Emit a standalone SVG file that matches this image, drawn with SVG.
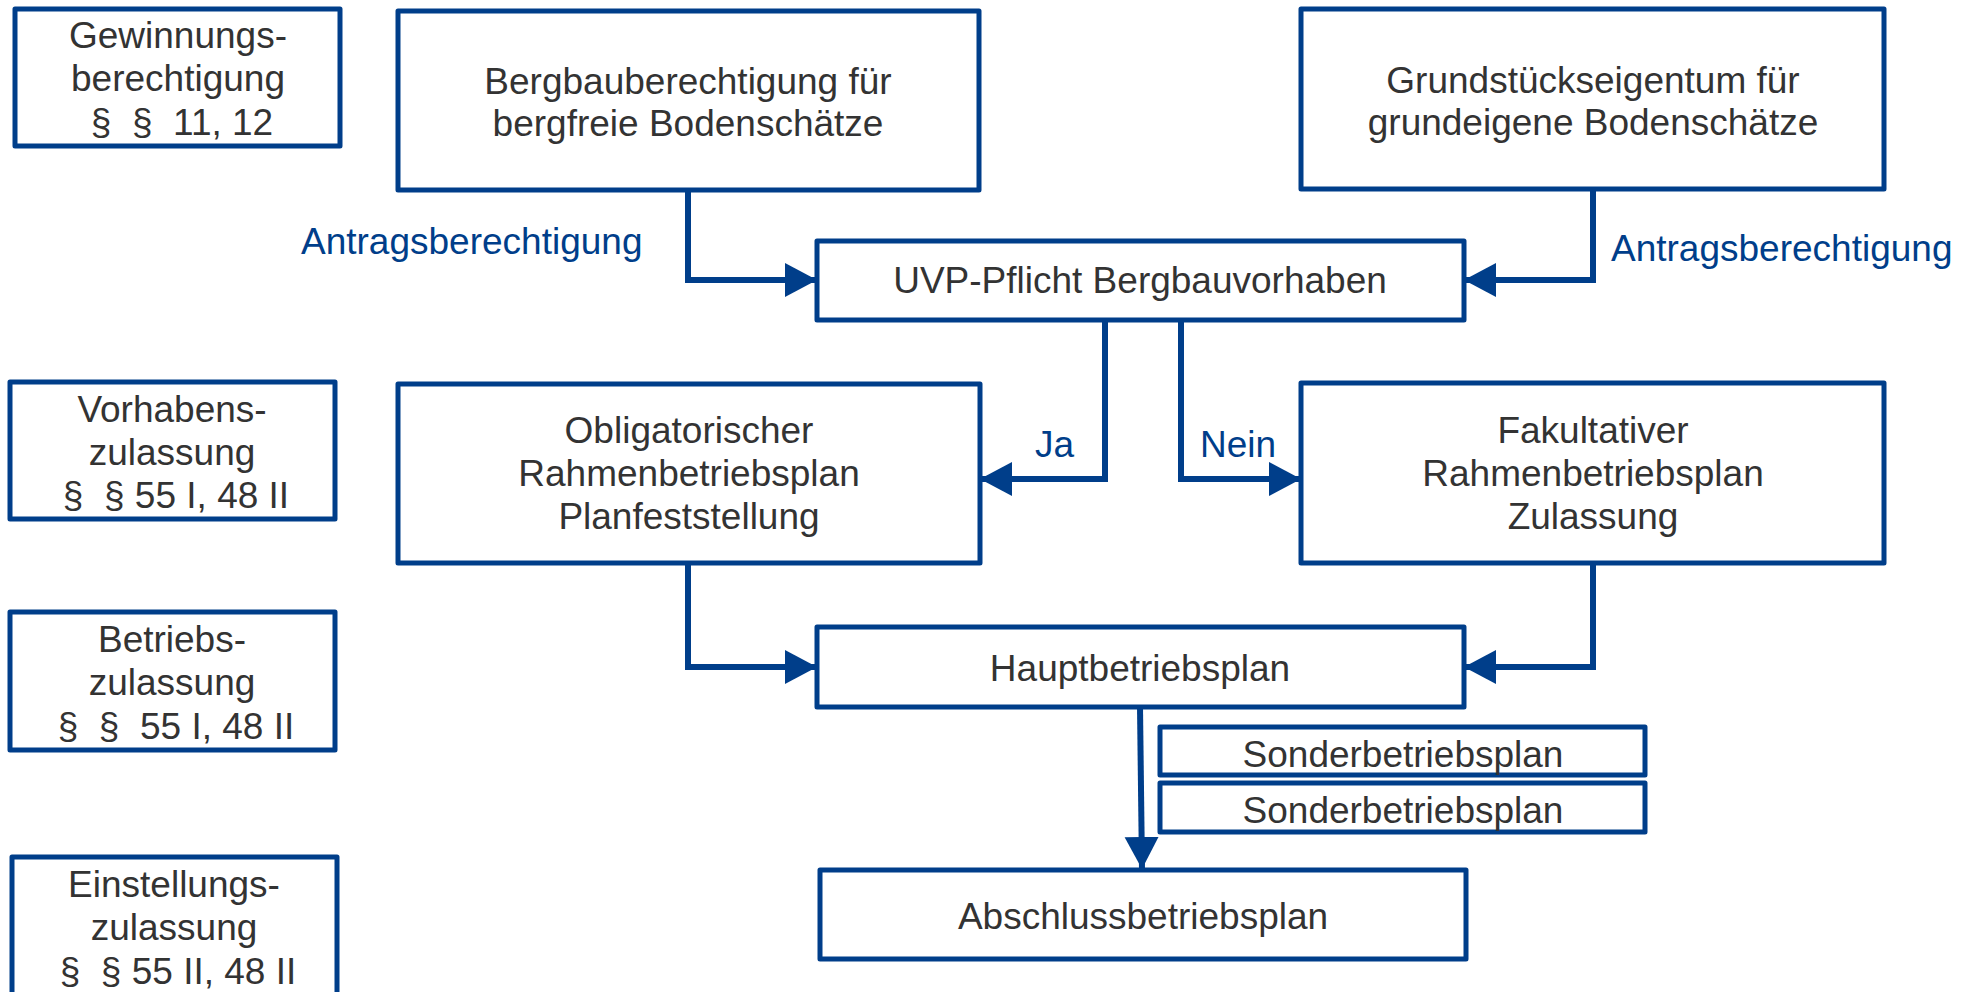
<svg xmlns="http://www.w3.org/2000/svg" width="1975" height="992" viewBox="0 0 1975 992">
<style>
.box{fill:#fff;stroke:#003E8A;stroke-width:5;stroke-linejoin:round}
.t{font-family:"Liberation Sans",Arial,sans-serif;font-size:37px;fill:#333;text-anchor:middle;white-space:pre}
.lbl{font-family:"Liberation Sans",Arial,sans-serif;font-size:37px;fill:#003E8A}
.c{fill:none;stroke:#003E8A;stroke-width:6;stroke-linejoin:miter;marker-end:url(#ah)}
</style>
<defs>
<marker id="ah" markerUnits="userSpaceOnUse" markerWidth="34" markerHeight="36" refX="32" refY="18" orient="auto">
<path d="M0,1 L32,18 L0,35 z" fill="#003E8A"/>
</marker>
</defs>
<rect width="1975" height="992" fill="#fff"/>
<g id="connectors">
<path class="c" d="M688,190 V280 H817"/>
<path class="c" d="M1593,189 V280 H1464"/>
<path class="c" d="M1105,320 V479 H980"/>
<path class="c" d="M1181,320 V479 H1301"/>
<path class="c" d="M688,563 V667 H817"/>
<path class="c" d="M1593,563 V667 H1464"/>
<path class="c" d="M1140,707 L1142,869"/>
</g>
<g id="lbl-antrag-l"><text class="lbl" x="301" y="254">Antragsberechtigung</text></g>
<g id="lbl-antrag-r"><text class="lbl" x="1611" y="261">Antragsberechtigung</text></g>
<g id="lbl-ja"><text class="lbl" x="1035" y="457">Ja</text></g>
<g id="lbl-nein"><text class="lbl" x="1200" y="457">Nein</text></g>
<g id="n-gewinnung"><rect class="box" x="15" y="9" width="325" height="137"/>
<text class="t" x="178" y="48">Gewinnungs-</text><text class="t" x="178" y="91">berechtigung</text><text class="t" x="182" y="135">§  §  11, 12</text></g>
<g id="n-bergbau"><rect class="box" x="398" y="11" width="581" height="179"/>
<text class="t" x="688" y="94">Bergbauberechtigung für</text><text class="t" x="688" y="136">bergfreie Bodenschätze</text></g>
<g id="n-grund"><rect class="box" x="1301" y="9" width="583" height="180"/>
<text class="t" x="1593" y="93">Grundstückseigentum für</text><text class="t" x="1593" y="135">grundeigene Bodenschätze</text></g>
<g id="n-uvp"><rect class="box" x="817" y="241" width="647" height="79"/>
<text class="t" x="1140" y="293">UVP-Pflicht Bergbauvorhaben</text></g>
<g id="n-vorhaben"><rect class="box" x="10" y="382" width="325" height="137"/>
<text class="t" x="172" y="422">Vorhabens-</text><text class="t" x="172" y="465">zulassung</text><text class="t" x="176" y="508">§  § 55 I, 48 II</text></g>
<g id="n-oblig"><rect class="box" x="398" y="384" width="582" height="179"/>
<text class="t" x="689" y="443">Obligatorischer</text><text class="t" x="689" y="486">Rahmenbetriebsplan</text><text class="t" x="689" y="529">Planfeststellung</text></g>
<g id="n-fakult"><rect class="box" x="1301" y="383" width="583" height="180"/>
<text class="t" x="1593" y="443">Fakultativer</text><text class="t" x="1593" y="486">Rahmenbetriebsplan</text><text class="t" x="1593" y="529">Zulassung</text></g>
<g id="n-betrieb"><rect class="box" x="10" y="612" width="325" height="138"/>
<text class="t" x="172" y="652">Betriebs-</text><text class="t" x="172" y="695">zulassung</text><text class="t" x="176" y="739">§  §  55 I, 48 II</text></g>
<g id="n-haupt"><rect class="box" x="817" y="627" width="647" height="80"/>
<text class="t" x="1140" y="681">Hauptbetriebsplan</text></g>
<g id="n-sonder1"><rect class="box" x="1160" y="727" width="485" height="48"/>
<text class="t" x="1403" y="767">Sonderbetriebsplan</text></g>
<g id="n-sonder2"><rect class="box" x="1160" y="783" width="485" height="49"/>
<text class="t" x="1403" y="823">Sonderbetriebsplan</text></g>
<g id="n-abschluss"><rect class="box" x="820" y="870" width="646" height="89"/>
<text class="t" x="1143" y="929">Abschlussbetriebsplan</text></g>
<g id="n-einstellung"><rect class="box" x="12" y="857" width="325" height="150"/>
<text class="t" x="174" y="897">Einstellungs-</text><text class="t" x="174" y="940">zulassung</text><text class="t" x="178" y="984">§  § 55 II, 48 II</text></g>
</svg>
